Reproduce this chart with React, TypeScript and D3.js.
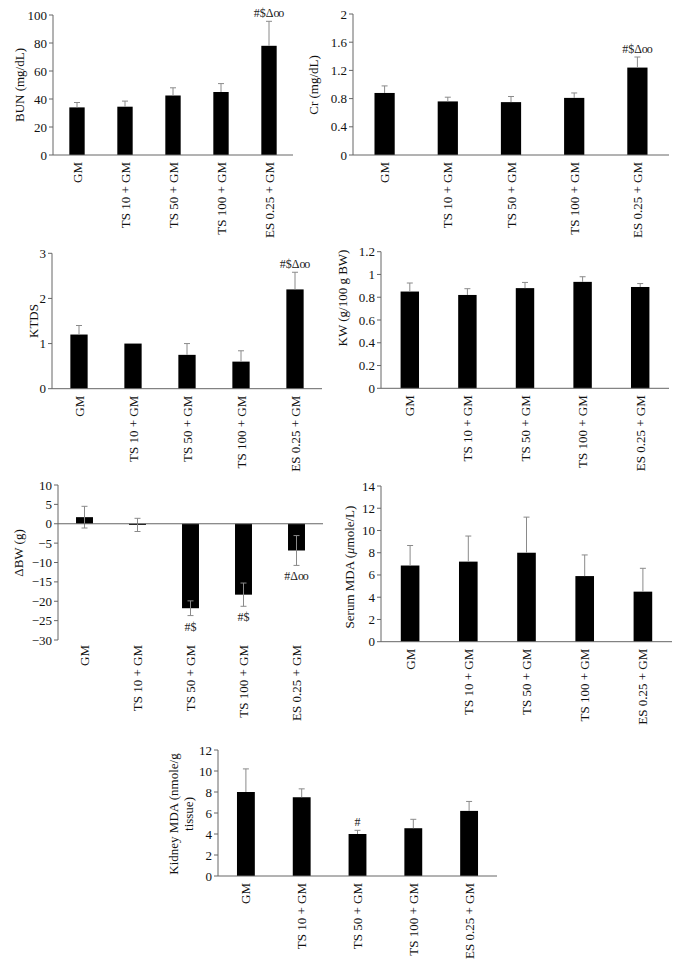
import React from "react";
import * as d3 from "d3";

const categories = ["GM", "TS 10 + GM", "TS 50 + GM", "TS 100 + GM", "ES 0.25 + GM"];

const bunMean = [34, 34.5, 42.5, 45, 78];
const bunErr = [3.5, 4, 5.5, 6, 17.5];
const bunSig = ["", "", "", "", "#$Δoo"];
const bunTicks = [0, 20, 40, 60, 80, 100];

const crMean = [0.88, 0.76, 0.75, 0.81, 1.24];
const crErr = [0.1, 0.06, 0.08, 0.07, 0.15];
const crSig = ["", "", "", "", "#$Δoo"];
const crTicks = [0, 0.4, 0.8, 1.2, 1.6, 2];

const ktdsMean = [1.2, 1.0, 0.75, 0.6, 2.2];
const ktdsErr = [0.2, 0, 0.25, 0.24, 0.38];
const ktdsSig = ["", "", "", "", "#$Δoo"];
const ktdsTicks = [0, 1, 2, 3];

const kwMean = [0.85, 0.82, 0.88, 0.935, 0.89];
const kwErr = [0.075, 0.055, 0.05, 0.045, 0.03];
const kwSig = ["", "", "", "", ""];
const kwTicks = [0, 0.2, 0.4, 0.6, 0.8, 1, 1.2];

const bwMean = [1.7, -0.3, -21.8, -18.3, -6.9];
const bwErr = [2.8, 1.7, 1.9, 3.0, 3.85];
const bwSig = ["", "", "#$", "#$", "#Δoo"];
const bwTicks = [-30, -25, -20, -15, -10, -5, 0, 5, 10];

const serumMean = [6.85, 7.2, 8.0, 5.9, 4.5];
const serumErr = [1.8, 2.3, 3.2, 1.9, 2.1];
const serumSig = ["", "", "", "", ""];
const serumTicks = [0, 2, 4, 6, 8, 10, 12, 14];

const kidneyMean = [8.0, 7.5, 4.0, 4.55, 6.2];
const kidneyErr = [2.2, 0.8, 0.35, 0.85, 0.9];
const kidneySig = ["", "", "#", "", ""];
const kidneyTicks = [0, 2, 4, 6, 8, 10, 12];

const FONT = "'Liberation Serif', 'Times New Roman', serif";
const AXIS = "#666";
const ERR = "#8a8a8a";

type PanelProps = {
  left: number;
  right: number;
  top: number;
  bottom: number;
  ticks: number[];
  mean: number[];
  err: number[];
  sig: string[];
  twoSided?: boolean;
  yLabel: React.ReactNode;
  labelX: number;
  labelY: number;
  labelTop?: number;
};

function renderSig(s: string) {
  if (!s.endsWith("oo")) return s;
  const head = s.slice(0, -2);
  return (
    <>
      {head}
      <tspan>o</tspan>
      <tspan dx={-1.2}>o</tspan>
    </>
  );
}

function Panel(p: PanelProps) {
  const dom = d3.extent(p.ticks) as [number, number];
  const y = d3.scaleLinear().domain(dom).range([p.bottom, p.top]);
  const x = d3
    .scaleBand<string>()
    .domain(categories)
    .range([p.left, p.right])
    .paddingInner(0.68)
    .paddingOuter(0.34);
  const bw = x.bandwidth();
  const zeroY = y(Math.max(dom[0], 0));
  const fmt = (v: number) => d3.format("")(+v.toFixed(2));
  const capW = 6;
  const labelTop = p.labelTop ?? p.bottom + 7;
  return (
    <g fontFamily={FONT}>
      {categories.map((c, i) => {
        const v = p.mean[i];
        const e = p.err[i];
        const cx = (x(c) as number) + bw / 2;
        const y0 = y(0);
        const y1 = y(v);
        const eTop = y(v + e);
        const eBot = y(v - e);
        return (
          <g key={c}>
            <rect x={x(c)} width={bw} y={Math.min(y0, y1)} height={Math.abs(y1 - y0)} fill="#000" />
            {e > 0 && (
              <g stroke={ERR} strokeWidth={1}>
                <line x1={cx} x2={cx} y1={p.twoSided ? eBot : y1} y2={eTop} />
                <line x1={cx - capW / 2} x2={cx + capW / 2} y1={eTop} y2={eTop} />
                {p.twoSided && <line x1={cx - capW / 2} x2={cx + capW / 2} y1={eBot} y2={eBot} />}
              </g>
            )}
            {p.sig[i] && (
              <text
                x={cx}
                y={v >= 0 ? eTop - 4 : eBot + 15}
                textAnchor="middle"
                fontSize={12}
                fill="#222"
              >
                {renderSig(p.sig[i])}
              </text>
            )}
            <text
              transform={`translate(${cx},${labelTop}) rotate(-90)`}
              textAnchor="end"
              dominantBaseline="central"
              fontSize={13}
              fill="#111"
            >
              {c}
            </text>
          </g>
        );
      })}
      {/* axes */}
      <line x1={p.left} x2={p.left} y1={p.top} y2={p.bottom} stroke={AXIS} strokeWidth={1} />
      <line x1={p.left} x2={p.right} y1={zeroY} y2={zeroY} stroke={AXIS} strokeWidth={1} />
      {p.ticks.map((t) => (
        <g key={t}>
          <line x1={p.left - 4} x2={p.left} y1={y(t)} y2={y(t)} stroke={AXIS} strokeWidth={1} />
          <text
            x={p.left - 6}
            y={y(t)}
            textAnchor="end"
            dominantBaseline="central"
            fontSize={13}
            fill="#111"
          >
            {fmt(t)}
          </text>
        </g>
      ))}
      <text
        transform={`translate(${p.labelX},${p.labelY}) rotate(-90)`}
        textAnchor="middle"
        dominantBaseline="central"
        fontSize={13}
        fill="#111"
      >
        {p.yLabel}
      </text>
    </g>
  );
}

export default function App() {
  return (
    <svg
      width={682}
      height={964}
      viewBox="0 0 682 964"
      style={{ position: "absolute", left: 0, top: 0, background: "#fff" }}
    >
      <rect width={682} height={964} fill="#fff" />
      <Panel left={53} right={293} top={15} bottom={155} ticks={bunTicks} mean={bunMean} err={bunErr} sig={bunSig}
        yLabel="BUN (mg/dL)" labelX={19} labelY={85} />
      <Panel left={353} right={669} top={14} bottom={155} ticks={crTicks} mean={crMean} err={crErr} sig={crSig}
        yLabel="Cr (mg/dL)" labelX={313} labelY={85} />
      <Panel left={52} right={322} top={253.3} bottom={388.7} ticks={ktdsTicks} mean={ktdsMean} err={ktdsErr} sig={ktdsSig}
        yLabel="KTDS" labelX={33} labelY={321} />
      <Panel left={381} right={669} top={251.7} bottom={388.3} ticks={kwTicks} mean={kwMean} err={kwErr} sig={kwSig}
        yLabel="KW (g/100 g BW)" labelX={342} labelY={298} />
      <Panel left={58} right={323} top={485} bottom={640} ticks={bwTicks} mean={bwMean} err={bwErr} sig={bwSig}
        twoSided yLabel="ΔBW (g)" labelX={18} labelY={553} labelTop={645} />
      <Panel left={381} right={672} top={486} bottom={641.7} ticks={serumTicks} mean={serumMean} err={serumErr} sig={serumSig}
        yLabel={<>Serum MDA (<tspan fontStyle="italic">μ</tspan>mole/L)</>} labelX={349} labelY={567} />
      <Panel left={218} right={497} top={750} bottom={876} ticks={kidneyTicks} mean={kidneyMean} err={kidneyErr} sig={kidneySig}
        yLabel={<><tspan x={0} dy={-7.5}>Kidney MDA (nmole/g</tspan><tspan x={0} dy={15}>tissue)</tspan></>}
        labelX={180} labelY={814} />
    </svg>
  );
}
